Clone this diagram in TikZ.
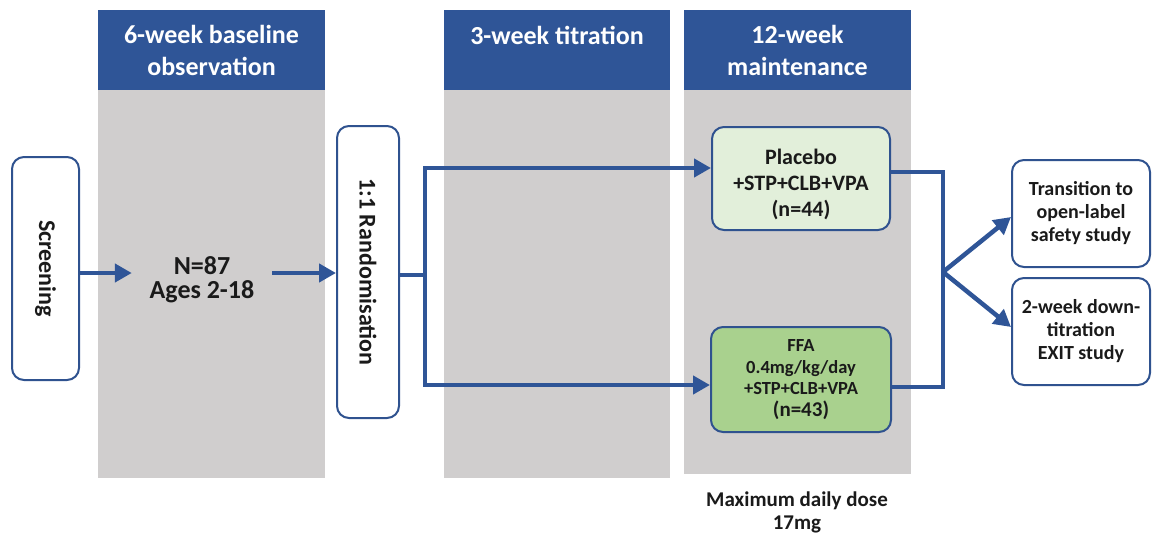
\documentclass[tikz,border=0pt]{standalone}
\usepackage{fontspec}
\usepackage{graphicx}
\setmainfont{Carlito}
\usetikzlibrary{arrows.meta}

\definecolor{hdrblue}{HTML}{2F5597}
\definecolor{bandgrey}{HTML}{D0CECE}
\definecolor{edgeblue}{HTML}{2F528F}
\definecolor{lightgreen}{HTML}{E2EFDA}
\definecolor{midgreen}{HTML}{A9D18E}
\definecolor{ink}{HTML}{1A1A1A}

\tikzset{
  band/.style={fill=bandgrey, draw=none},
  header/.style={fill=hdrblue, draw=none},
  hdrtext/.style={text=white, font=\bfseries\fontsize{26}{32}\selectfont, align=center},
  stage/.style={draw=edgeblue, line width=2pt, rounded corners=12pt, fill=white,
                text=ink, font=\bfseries, align=center, inner sep=0pt},
  conn/.style={draw=hdrblue, line width=4.5pt},
  arr/.style={conn, -{Triangle[length=17pt,width=18pt]}},
}

\begin{document}
\begin{tikzpicture}[x=1pt,y=-1pt]
\useasboundingbox (0,0) rectangle (1152,533);

% study period bands
\fill[band] (98,90) rectangle (325,478);
\fill[band] (444,90) rectangle (670,478);
\fill[band] (684,90) rectangle (911,474);
\fill[header] (98,10) rectangle (325,90);
\fill[header] (444,10) rectangle (670,90);
\fill[header] (684,10) rectangle (911,90);
\node[hdrtext] (h1) at (211.5,50) {6-week baseline\\observation};
\node[hdrtext] (h2) at (557,35) {3-week titration};
\node[hdrtext] (h3) at (797.5,50) {12-week\\maintenance};

% stages
\node[stage, minimum width=67pt, minimum height=223pt,
      font=\bfseries\fontsize{24}{28}\selectfont] (scr) at (45.5,268.5)
      {\rotatebox{-90}{Screening}};
\node[text=ink, font=\bfseries\fontsize{26}{24}\selectfont, align=center,
      minimum width=140pt, inner sep=0pt] (n87) at (202,280)
      {N=87\\Ages 2-18};
\node[stage, minimum width=62pt, minimum height=292pt,
      font=\bfseries\fontsize{24}{28}\selectfont] (rand) at (368,272)
      {\rotatebox{-90}{1:1 Randomisation}};
\node[stage, fill=lightgreen, minimum width=178pt, minimum height=103pt] (plac)
      at (801,178.5) {};
\node[text=ink, align=center, font=\bfseries\fontsize{22}{26}\selectfont]
      (plactext) at (801,184) {Placebo\\+STP+CLB+VPA\\(n=44)};
\node[stage, fill=midgreen, minimum width=180pt, minimum height=105pt,
      font=\bfseries\fontsize{18.5}{21.7}\selectfont] (ffa) at (801,379.5)
      {FFA\\0.4mg/kg/day\\+STP+CLB+VPA\\{\fontsize{21}{21.7}\selectfont(n=43)}};
\node[stage, minimum width=138pt, minimum height=107pt,
      font=\bfseries\fontsize{20}{23}\selectfont] (ols) at (1081,213.5)
      {Transition to\\open-label\\safety study};
\node[stage, minimum width=138pt, minimum height=107pt,
      font=\bfseries\fontsize{20}{23}\selectfont] (exit) at (1081,331.5)
      {2-week down-\\titration\\EXIT study};
\node[text=ink, font=\bfseries\fontsize{21}{23}\selectfont, align=center] (dose)
      at (797,512) {Maximum daily dose\\17mg};

% flow
\coordinate (br) at (425,275);
\coordinate (mj) at (943,272);
\draw[arr] (scr.east |- 0,273) -- (n87.west |- 0,273);
\draw[arr] (n87.east |- 0,273) -- (rand.west |- 0,273);
\draw[conn] (rand.east |- br) -- (br);
\draw[arr] (br) |- ([yshift=10.5pt]plac.west);
\draw[arr] (br) |- ([yshift=-5.5pt]ffa.west);
\draw[conn] ([yshift=6.5pt]plac.east) -| (mj |- 0,387) -- ([yshift=-7.5pt]ffa.east);
\draw[arr] (mj) -- ([yshift=-3.5pt]ols.west);
\draw[arr] (mj) -- ([yshift=4.5pt]exit.west);
\end{tikzpicture}
\end{document}
